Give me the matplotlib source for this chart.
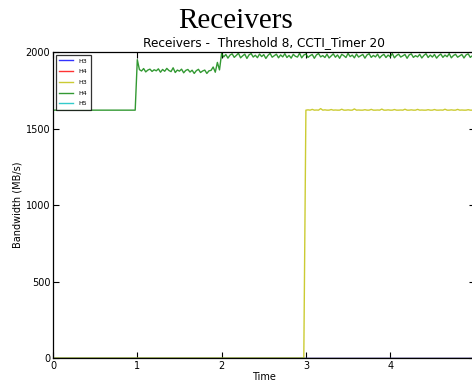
import numpy as np
import matplotlib
matplotlib.use("Agg")
import matplotlib.pyplot as plt

# Sampling step of the bandwidth traces (seconds)
step = 0.025
n_points = 200

series_labels = ["H3", "H4", "H3", "H4", "H5"]
series_colors = ["#0000ff", "#ff0000", "#bfbf00", "#008000", "#00bfbf"]

# H4 (green) receiver bandwidth, MB/s
h4_idle = [1620] * 40
h4_phase1 = [1950, 1885, 1876, 1892, 1870, 1882, 1888, 1873, 1884, 1877,
             1890, 1868, 1886, 1874, 1893, 1879, 1872, 1897, 1866, 1882,
             1875, 1888, 1864, 1880, 1886, 1869, 1881, 1860, 1878, 1887,
             1866, 1876, 1882, 1860, 1877, 1880, 1902, 1868, 1932, 1883]
h4_phase2 = [1990, 1968, 1984, 1960, 1980, 1988, 1965, 1978, 1992, 1962,
             1975, 1986, 1958, 1981, 1990, 1967, 1979, 1963, 1987, 1970,
             1983, 1958, 1978, 1991, 1966, 1976, 1986, 1962, 1981, 1968,
             1989, 1964, 1978, 1960, 1985, 1972, 1967, 1992, 1962, 1980,
             1987, 1965, 1976, 1984, 1959, 1981, 1990, 1968, 1977, 1964,
             1986, 1961, 1975, 1988, 1966, 1981, 1959, 1985, 1976, 1964,
             1991, 1970, 1980, 1962, 1987, 1967, 1976, 1984, 1960, 1981,
             1989, 1965, 1978, 1968, 1986, 1961, 1976, 1985, 1964, 1980,
             1969, 1990, 1962, 1977, 1986, 1967, 1975, 1984, 1959, 1981,
             1988, 1965, 1976, 1968, 1985, 1961, 1978, 1989, 1964, 1980,
             1967, 1984, 1960, 1976, 1987, 1965, 1980, 1969, 1990, 1962,
             1977, 1985, 1966, 1975, 1984, 1961, 1981, 1988, 1965, 1976]
h4_green = h4_idle + h4_phase1 + h4_phase2

# H3 (yellow) receiver bandwidth, MB/s
h3_idle = [0] * 120
h3_active = [1620, 1622, 1620, 1625, 1620, 1621, 1620, 1630, 1620, 1622,
             1620, 1620, 1624, 1620, 1621, 1620, 1620, 1626, 1620, 1620,
             1622, 1620, 1620, 1628, 1620, 1621, 1620, 1620, 1623, 1620,
             1620, 1625, 1620, 1620, 1621, 1620, 1627, 1620, 1620, 1622,
             1620, 1620, 1624, 1620, 1620, 1621, 1620, 1626, 1620, 1620,
             1622, 1620, 1620, 1625, 1620, 1621, 1620, 1620, 1623, 1620,
             1620, 1624, 1620, 1620, 1621, 1620, 1626, 1620, 1620, 1622,
             1620, 1620, 1625, 1620, 1621, 1620, 1620, 1623, 1620, 1620]
h3_yellow = h3_idle + h3_active

zeros = [0] * n_points
series_values = [zeros, zeros, h3_yellow, h4_green, zeros]

time = np.arange(n_points) * step

fig = plt.figure(figsize=(4.72, 3.87), dpi=100)
ax = fig.add_axes([0.1123, 0.0749, 0.893, 0.7907])

for vals, lab, col in zip(series_values, series_labels, series_colors):
    ax.plot(time, vals, color=col, lw=1.0, alpha=0.8, label=lab)

ax.set_xlim(0, 5)
ax.set_ylim(0, 2000)
ax.set_xticks([0, 1, 2, 3, 4])
ax.set_yticks([0, 500, 1000, 1500, 2000])
ax.tick_params(direction="in", top=True, right=True, labelsize=7,
               length=4, width=0.8, pad=2)
for s in ax.spines.values():
    s.set_linewidth(0.9)

ax.set_xlabel("Time", fontsize=7, labelpad=1)
ax.set_ylabel("Bandwidth (MB/s)", fontsize=7, labelpad=2)
ax.set_title("Receivers -  Threshold 8, CCTI_Timer 20", fontsize=8.7, pad=4)
fig.suptitle("Receivers", fontsize=21, family="Liberation Serif", y=0.98)

leg = ax.legend(loc="upper left", fontsize=4.5, frameon=True, fancybox=False,
                borderpad=0.6, labelspacing=0.85, handlelength=2.2,
                borderaxespad=0.4)
leg.get_frame().set_edgecolor("black")
leg.get_frame().set_linewidth(0.9)

fig.savefig("out.png", dpi=100)
